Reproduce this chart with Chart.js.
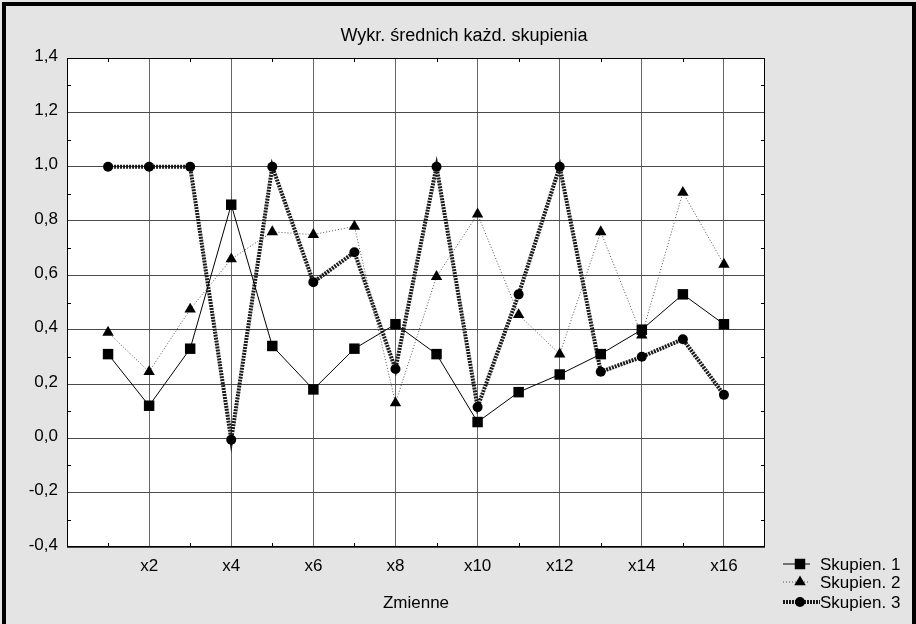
<!DOCTYPE html>
<html>
<head>
<meta charset="utf-8">
<script src="https://cdn.jsdelivr.net/npm/chart.js@4/dist/chart.umd.min.js"></script>
<style>
html,body{margin:0;padding:0;background:#e4e4e4;}
#wrap{width:916px;height:624px;position:relative;}
</style>
</head>
<body>
<div id="wrap"><canvas id="c"></canvas></div>
<script>
const chartTitle = 'Wykr. średnich każd. skupienia';
const xAxisTitle = 'Zmienne';
const categories = ['x1','x2','x3','x4','x5','x6','x7','x8','x9','x10','x11','x12','x13','x14','x15','x16'];
const seriesNames = ['Skupien. 1','Skupien. 2','Skupien. 3'];
const skupien1 = [0.31, 0.12, 0.33, 0.86, 0.34, 0.18, 0.33, 0.42, 0.31, 0.06, 0.17, 0.235, 0.31, 0.40, 0.53, 0.42];
const skupien2 = [0.39, 0.245, 0.475, 0.66, 0.76, 0.75, 0.78, 0.13, 0.595, 0.825, 0.455, 0.31, 0.76, 0.38, 0.905, 0.64];
const skupien3 = [1.0, 1.0, 1.0, -0.005, 1.0, 0.575, 0.685, 0.255, 1.0, 0.115, 0.53, 1.0, 0.245, 0.30, 0.365, 0.16];
const yTickLabels = ['-0,4','-0,2','0,0','0,2','0,4','0,6','0,8','1,0','1,2','1,4'];
const xTickLabels = ['x2','x4','x6','x8','x10','x12','x14','x16'];

Chart.defaults.font.family = "'Liberation Sans', Arial, sans-serif";
Chart.defaults.font.size = 17;
Chart.defaults.color = '#000';

const toXY = arr => arr.map((v, i) => ({x: i + 1, y: v}));

const framePlugin = {
  id: 'frame',
  beforeDraw(chart) {
    const {ctx, width, height, chartArea: a} = chart;
    ctx.save();
    ctx.fillStyle = '#e4e4e4';
    ctx.fillRect(0, 0, width, height);
    ctx.strokeStyle = '#000';
    ctx.lineWidth = 4;
    ctx.strokeRect(4, 4, width - 6, height + 10);
    ctx.fillStyle = '#fff';
    ctx.fillRect(a.left, a.top, a.right - a.left, a.bottom - a.top);
    ctx.restore();
  },
  beforeDatasetsDraw(chart) {
    const {ctx, chartArea: a, scales} = chart;
    const x = scales.x, y = scales.y;
    ctx.save();
    ctx.strokeStyle = '#000';
    ctx.lineWidth = 1;
    ctx.beginPath();
    categories.forEach((c, i) => {
      if (xTickLabels.indexOf(c) === -1) {
        const px = Math.round(x.getPixelForValue(i + 1)) + 0.5;
        ctx.moveTo(px, a.top); ctx.lineTo(px, a.top + 4);
        ctx.moveTo(px, a.bottom); ctx.lineTo(px, a.bottom - 4);
      }
    });
    const t = y.ticks;
    for (let i = 0; i < t.length - 1; i++) {
      const v = (t[i].value + t[i + 1].value) / 2;
      const py = Math.round(y.getPixelForValue(v)) + 0.5;
      ctx.moveTo(a.left, py); ctx.lineTo(a.left + 4, py);
      ctx.moveTo(a.right, py); ctx.lineTo(a.right - 4, py);
    }
    ctx.stroke();
    ctx.strokeRect(Math.round(a.left) + 0.5, Math.round(a.top) + 0.5,
                   Math.round(a.right - a.left) - 1, Math.round(a.bottom - a.top) - 1);
    ctx.restore();
  }
};

const legendPlugin = {
  id: 'sideLegend',
  afterDraw(chart) {
    const {ctx, chartArea: a} = chart;
    const baseOffsets = [23, 41, 61];
    chart.data.datasets.forEach((ds, i) => {
      const base = a.bottom + baseOffsets[i];
      const cy = base - 6;
      const x0 = a.right + 18;
      const x1 = i === 2 ? a.right + 55 : a.right + 45;
      ctx.save();
      ctx.strokeStyle = ds.borderColor;
      ctx.lineWidth = ds.borderWidth;
      ctx.setLineDash(ds.borderDash || []);
      ctx.beginPath();
      ctx.moveTo(x0, cy); ctx.lineTo(x1, cy);
      ctx.stroke();
      ctx.setLineDash([]);
      ctx.fillStyle = ds.pointBackgroundColor;
      ctx.strokeStyle = ds.pointBackgroundColor;
      Chart.helpers.drawPoint(ctx, {pointStyle: ds.pointStyle, radius: ds.pointRadius, borderWidth: 0, rotation: 0}, a.right + 35, cy);
      ctx.fillStyle = '#000';
      ctx.font = "17px 'Liberation Sans', Arial, sans-serif";
      ctx.textBaseline = 'alphabetic';
      ctx.textAlign = 'left';
      ctx.fillText(ds.label, a.right + 55, base);
      ctx.restore();
    });
  }
};

new Chart(document.getElementById('c'), {
  type: 'line',
  data: {
    datasets: [
      {
        label: seriesNames[0], data: toXY(skupien1),
        borderColor: '#000', borderWidth: 1, borderDash: [],
        pointStyle: 'rect', pointRadius: 7.4, pointHoverRadius: 7.4,
        pointBackgroundColor: '#000', pointBorderWidth: 0, tension: 0
      },
      {
        label: seriesNames[1], data: toXY(skupien2),
        borderColor: '#555', borderWidth: 1, borderDash: [1, 2],
        pointStyle: 'triangle', pointRadius: 6.6, pointHoverRadius: 6.6,
        pointBackgroundColor: '#000', pointBorderWidth: 0, tension: 0
      },
      {
        label: seriesNames[2], data: toXY(skupien3),
        borderColor: '#1a1a1a', borderWidth: 4, borderDash: [2, 1],
        pointStyle: 'circle', pointRadius: 5, pointHoverRadius: 5,
        pointBackgroundColor: '#000', pointBorderWidth: 0, tension: 0
      }
    ]
  },
  options: {
    responsive: true,
    maintainAspectRatio: false,
    animation: false,
    events: [],
    layout: {padding: {left: 12, right: 0, top: 25, bottom: 0}},
    plugins: {
      legend: {display: false},
      tooltip: {enabled: false},
      title: {
        display: true, text: chartTitle, color: '#000',
        font: {size: 18, weight: 'normal'},
        padding: {top: 0, bottom: 11.4}
      }
    },
    scales: {
      x: {
        type: 'linear', min: 0, max: categories.length + 1,
        afterFit: s => { s.height = 77; },
        ticks: {
          stepSize: 1, autoSkip: false, maxRotation: 0, padding: 9, color: '#000',
          callback: v => {
            const c = categories[v - 1];
            return (c && xTickLabels.indexOf(c) !== -1) ? c : '';
          }
        },
        grid: {
          drawTicks: false, lineWidth: 1,
          color: ctx => {
            const c = ctx.tick ? categories[ctx.tick.value - 1] : null;
            return (c && xTickLabels.indexOf(c) !== -1) ? '#666' : 'rgba(0,0,0,0)';
          }
        },
        border: {display: false},
        title: {display: true, text: xAxisTitle, color: '#000', font: {size: 17}, padding: {top: 0, bottom: 10}}
      },
      y: {
        min: -0.4, max: 1.4,
        afterFit: s => { s.width = 55; },
        ticks: {
          stepSize: 0.2, padding: 9, color: '#000', labelOffset: -2,
          callback: (v, i) => yTickLabels[i]
        },
        grid: {drawTicks: false, color: '#4a4a4a', lineWidth: 1},
        border: {display: false}
      },
      yPad: {
        position: 'right', min: 0, max: 1,
        afterFit: s => { s.width = 151; },
        ticks: {display: false},
        grid: {display: false, drawTicks: false},
        border: {display: false}
      }
    }
  },
  plugins: [framePlugin, legendPlugin]
});
</script>
</body>
</html>
